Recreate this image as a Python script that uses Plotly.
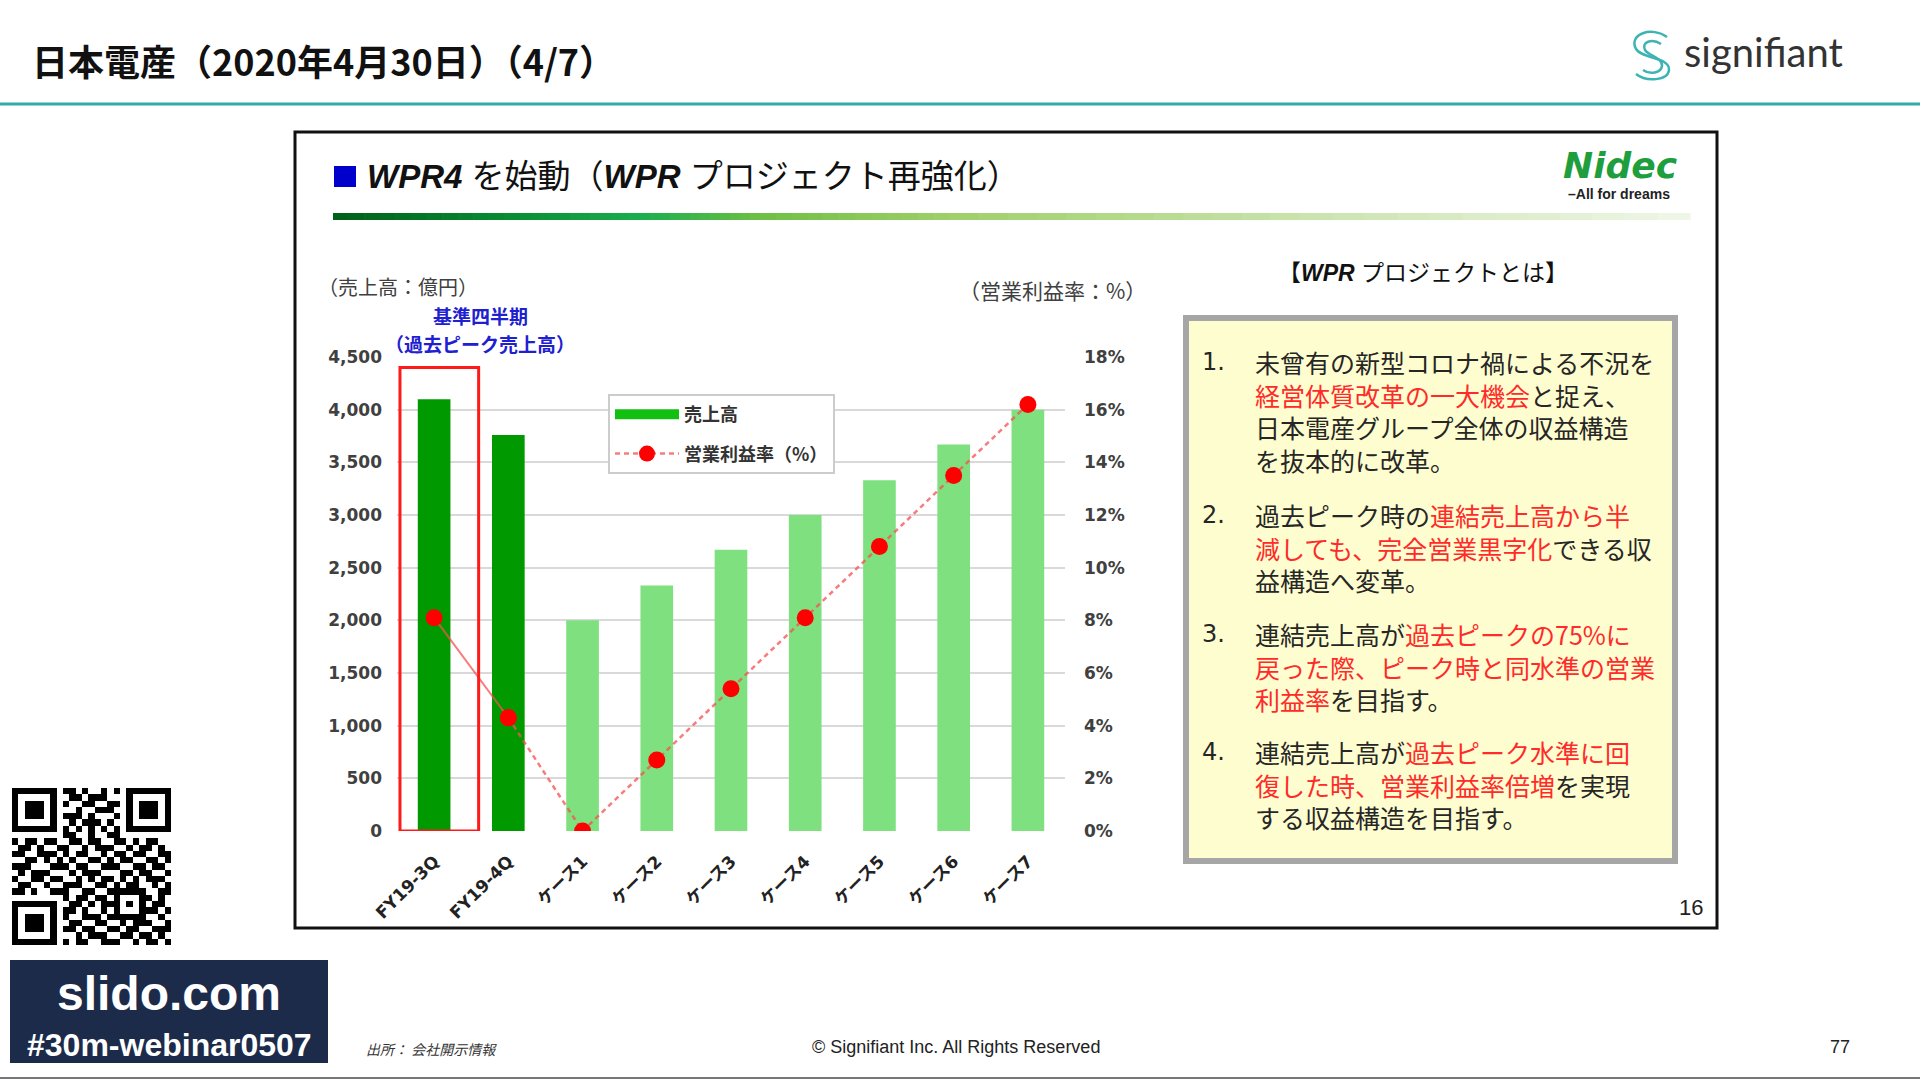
import plotly.graph_objects as go

W, H = 1920, 1080


def px(x):
    return x / W


def py(y):
    return 1 - y / H


# ---------------- data ----------------
categories = ["FY19-3Q", "FY19-4Q", "ケース1", "ケース2", "ケース3", "ケース4", "ケース5", "ケース6", "ケース7"]
sales = [4100, 3760, 2000, 2330, 2670, 3000, 3330, 3670, 4000]          # 売上高（億円）
margin_pct = [8.1, 4.3, 0.0, 2.7, 5.4, 8.1, 10.8, 13.5, 16.2]          # 営業利益率（%）
left_ticks = [0, 500, 1000, 1500, 2000, 2500, 3000, 3500, 4000, 4500]
left_ticktext = ["0", "500", "1,000", "1,500", "2,000", "2,500", "3,000", "3,500", "4,000", "4,500"]
right_ticks = [0, 2, 4, 6, 8, 10, 12, 14, 16, 18]
right_ticktext = ["0%", "2%", "4%", "6%", "8%", "10%", "12%", "14%", "16%", "18%"]

DARK_GREEN = "#009a00"
LIGHT_GREEN = "#7fe07f"
bar_colors = [DARK_GREEN, DARK_GREEN] + [LIGHT_GREEN] * 7

JP = "Noto Sans CJK JP"
NUMF = "DejaVu Sans, Noto Sans CJK JP"

fig = go.Figure()

fig.add_trace(go.Bar(
    x=categories, y=sales, marker=dict(color=bar_colors, line=dict(width=0)),
    width=0.44, showlegend=False, hoverinfo="skip",
))
# legend entry for sales (wide swatch)
fig.add_trace(go.Scatter(
    x=[None], y=[None], name="売上高", mode="lines", line=dict(color="#11c011", width=10),
    legendgroup="a", showlegend=True,
))
LINE_C = "rgba(245,80,80,0.75)"
fig.add_trace(go.Scatter(
    x=categories[:2], y=margin_pct[:2], yaxis="y2", mode="lines+markers",
    line=dict(color=LINE_C, width=2), marker=dict(color="#ff0000", size=17),
    showlegend=False, hoverinfo="skip", legendgroup="c",
))
fig.add_trace(go.Scatter(
    x=categories[1:], y=margin_pct[1:], yaxis="y2", mode="lines+markers",
    line=dict(color=LINE_C, width=2.5, dash="5px,4px"), marker=dict(color="#ff0000", size=17),
    name="営業利益率（%）", legendgroup="b", hoverinfo="skip",
))

# QR code decoration
qr_rows = [
    "1111111011010010101111111",
    "1000001001101110001000001",
    "1011101010011001101011101",
    "1011101000100111001011101",
    "1011101011101000101011101",
    "1000001001011101001000001",
    "1111111010101010101111111",
    "0000000011001001100000000",
    "1011011001101100110101100",
    "0110100110010111001011010",
    "1100111010110010110110011",
    "0011010101001101011001101",
    "1110001110110011100110110",
    "0101110001011100011011001",
    "1001101100101011010101110",
    "0110010011100110101100101",
    "1101001110011001111110011",
    "0000000010110110100011010",
    "1111111001101011101010110",
    "1000001011010010100011101",
    "1011101010011101111110010",
    "1011101001100110010111001",
    "1011101011011001101100111",
    "1000001000101110011011010",
    "1111111010110011100101101",
]
qr_z = [[int(c) for c in (r + "0" * 25)[:25]] for r in qr_rows]
fig.add_trace(go.Heatmap(
    z=qr_z, xaxis="x3", yaxis="y3", colorscale=[[0, "white"], [1, "black"]],
    showscale=False, hoverinfo="skip",
))

# ---------------- shapes ----------------
shapes = []
shapes.append(dict(type="line", xref="paper", yref="paper", x0=0, x1=1, y0=py(104), y1=py(104),
                   line=dict(color="#33a9a8", width=3)))
shapes.append(dict(type="rect", xref="paper", yref="paper", x0=px(295), x1=px(1717), y0=py(928), y1=py(132),
                   line=dict(color="#111111", width=3)))
shapes.append(dict(type="rect", xref="paper", yref="paper", x0=px(334), x1=px(356), y0=py(187), y1=py(166),
                   fillcolor="#0000cc", line=dict(width=0)))


def hex2rgb(h):
    h = h.lstrip("#")
    return tuple(int(h[i:i + 2], 16) for i in (0, 2, 4))


stops = [(333, "#005f1a"), (520, "#0a8f35"), (640, "#1aae4e"), (760, "#6fc045"),
         (950, "#9fd06a"), (1300, "#c9e4ad"), (1690, "#f0f7e8")]
seg = 12
for (xa, ca), (xb, cb) in zip(stops[:-1], stops[1:]):
    ra, rb = hex2rgb(ca), hex2rgb(cb)
    for i in range(seg):
        t = (i + 0.5) / seg
        col = "rgb(%d,%d,%d)" % tuple(int(ra[k] + (rb[k] - ra[k]) * t) for k in range(3))
        x0 = xa + (xb - xa) * i / seg
        x1 = xa + (xb - xa) * (i + 1) / seg + 0.6
        shapes.append(dict(type="rect", xref="paper", yref="paper", x0=px(x0), x1=px(x1),
                           y0=py(220), y1=py(213), fillcolor=col, line=dict(width=0)))

shapes.append(dict(type="rect", xref="x", yref="y", x0=-0.46, x1=0.6, y0=0, y1=4400,
                   line=dict(color="#ff1a1a", width=3), layer="above"))
shapes.append(dict(type="rect", xref="paper", yref="paper", x0=px(1186), x1=px(1675), y0=py(861), y1=py(318),
                   fillcolor="#fefdcf", line=dict(color="#a6a6a6", width=6)))
shapes.append(dict(type="rect", xref="paper", yref="paper", x0=px(10), x1=px(328), y0=py(1063), y1=py(960),
                   fillcolor="#1d2b4b", line=dict(width=0)))
shapes.append(dict(type="line", xref="paper", yref="paper", x0=0, x1=1, y0=py(1078), y1=py(1078),
                   line=dict(color="#777777", width=2)))


def path(cmds):
    out = []
    for c in cmds:
        if isinstance(c, str):
            out.append(c)
        else:
            out.append("%.5f,%.5f" % (px(c[0]), py(c[1])))
    return " ".join(out)


s_outer = path(["M", (1667, 37), "C", (1652, 26), (1628, 34), (1636, 49),
                "C", (1642, 59), (1670, 57), (1669, 70), "C", (1668, 81), (1646, 82), (1636, 74)])
s_inner = path(["M", (1661, 44), "C", (1652, 38), (1641, 42), (1645, 50),
                "C", (1649, 56), (1663, 58), (1662, 66), "C", (1661, 73), (1650, 75), (1643, 70)])
for p in (s_outer, s_inner):
    shapes.append(dict(type="path", xref="paper", yref="paper", path=p,
                       line=dict(color="#3db4b3", width=2.5)))

# ---------------- annotations ----------------
ann = []


def text(x, y, s, size, color="#222222", family=JP, anchor="left", weight="normal", style="normal",
         align="left"):
    ann.append(dict(x=px(x), y=py(y), xref="paper", yref="paper", text=s, showarrow=False,
                    xanchor=anchor, yanchor="middle", align=align,
                    font=dict(size=size, color=color, family=family, weight=weight, style=style)))


text(30, 60, "日本電産（2020年4月30日）（4/7）", 36, "#111111", JP, weight="bold")
text(1682, 52, "signifiant", 40, "#333333", "Lato")
text(365, 176, "<b><i>WPR4</i></b> を始動（<b><i>WPR</i></b> プロジェクト再強化）", 33, "#111111",
     "Liberation Sans, " + JP)
text(1620, 165, "<b><i>Nidec</i></b>", 36, "#1e9e3c", "DejaVu Sans", anchor="center")
text(1619, 194, "–All for dreams", 14, "#222222", "Liberation Sans", anchor="center", weight="bold")

text(316, 286, "（売上高：億円）", 20, "#404040")
text(1148, 290, "（営業利益率：%）", 21, "#404040", anchor="right")
text(480, 316, "基準四半期", 19, "#2020d0", anchor="center", weight="bold")
text(480, 343, "（過去ピーク売上高）", 19, "#2020d0", anchor="center", weight="bold")

text(1423, 273, "【<b><i>WPR</i></b> プロジェクトとは】", 23, "#111111", "Liberation Sans, " + JP, anchor="center")

K = "#262626"
R = "#ff2a2a"
items = [
    ("1.", 411, [[("未曾有の新型コロナ禍による不況を", K)],
                 [("経営体質改革の一大機会", R), ("と捉え、", K)],
                 [("日本電産グループ全体の収益構造", K)],
                 [("を抜本的に改革。", K)]]),
    ("2.", 547, [[("過去ピーク時の", K), ("連結売上高から半", R)],
                 [("減しても、完全営業黒字化", R), ("できる収", K)],
                 [("益構造へ変革。", K)]]),
    ("3.", 666, [[("連結売上高が", K), ("過去ピークの75%に", R)],
                 [("戻った際、ピーク時と同水準の営業", R)],
                 [("利益率", R), ("を目指す。", K)]]),
    ("4.", 784, [[("連結売上高が", K), ("過去ピーク水準に回", R)],
                 [("復した時、営業利益率倍増", R), ("を実現", K)],
                 [("する収益構造を目指す。", K)]]),
]
for num, yc, lines in items:
    s = "<br>".join("".join("<span style='color:%s'>%s</span>" % (c, t) for t, c in parts) for parts in lines)
    text(1253, yc, s, 25, K)
    n_lines = len(lines)
    first_y = yc - (n_lines - 1) * 25 * 1.3 / 2
    text(1200, first_y, num, 24, K, "DejaVu Sans")

text(1691, 907, "16", 22, "#222222", "Liberation Sans", anchor="center")
text(169, 993, "slido.com", 48, "#ffffff", "Liberation Sans", anchor="center", weight="bold")
text(169, 1045, "#30m-webinar0507", 32, "#ffffff", "Liberation Sans", anchor="center", weight="bold")
text(364, 1049, "出所：&nbsp;会社開示情報", 14, "#333333", JP, style="italic")
text(956, 1047, "© Signifiant Inc. All Rights Reserved", 18, "#222222", "Liberation Sans", anchor="center")
text(1840, 1047, "77", 18, "#222222", "Liberation Sans", anchor="center")

# ---------------- layout ----------------
fig.update_layout(
    width=W, height=H, margin=dict(l=0, r=0, t=0, b=0, autoexpand=False),
    paper_bgcolor="white", plot_bgcolor="white",
    barmode="overlay",
    shapes=shapes, annotations=ann,
    xaxis=dict(domain=[px(397), px(1065)], anchor="y", type="category", range=[-0.5, 8.5],
               tickangle=-45, showgrid=False, showline=False, zeroline=False, ticks="",
               tickfont=dict(family=NUMF, size=17, color="#222222", weight="bold"), ticklabelstandoff=16),
    yaxis=dict(domain=[py(831), py(357)], range=[0, 4500], tickvals=left_ticks, ticktext=left_ticktext,
               showgrid=True, gridcolor="#d9d9d9", gridwidth=1.5, zeroline=False, showline=False,
               tickfont=dict(family=NUMF, size=17, color="#404040", weight="bold"), ticklabelstandoff=14),
    yaxis2=dict(overlaying="y", side="right", anchor="x", range=[0, 18], tickvals=right_ticks,
                ticktext=right_ticktext, showgrid=False, zeroline=False, showline=False,
                tickfont=dict(family=NUMF, size=17, color="#404040", weight="bold"), ticklabelstandoff=18),
    xaxis3=dict(domain=[px(12), px(171)], anchor="y3", visible=False),
    yaxis3=dict(domain=[py(945), py(788)], anchor="x3", visible=False, autorange="reversed"),
    legend=dict(x=px(608), y=py(394), xanchor="left", yanchor="top", bgcolor="white",
                bordercolor="#cccccc", borderwidth=2, tracegroupgap=13,
                font=dict(family=JP, size=18, color="#333333", weight="bold"),
                itemwidth=64, traceorder="grouped", entrywidth=180),
    showlegend=True,
)

fig.write_html("out.html", config={"displayModeBar": False},
               post_script="document.body.style.margin='0';document.body.style.overflow='hidden';")
